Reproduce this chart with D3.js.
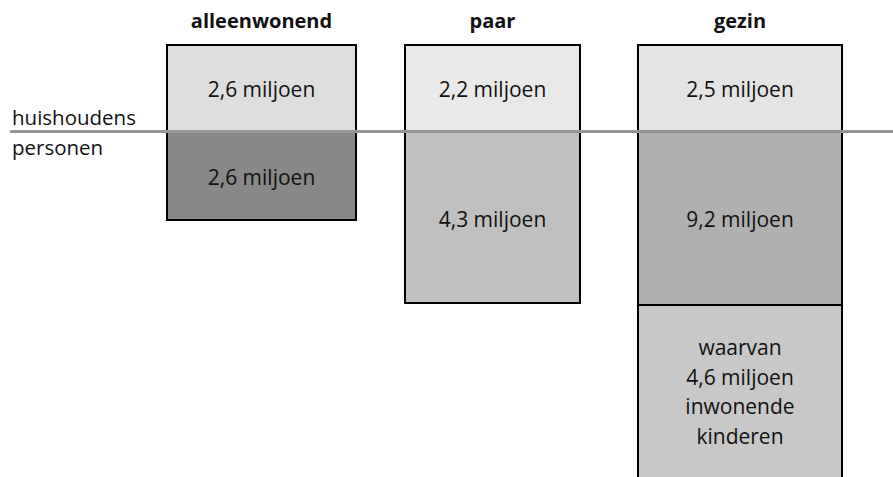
<!DOCTYPE html>
<meta charset="utf-8">
<script src="https://cdn.jsdelivr.net/npm/d3@7/dist/d3.min.js"></script>
<style>
    body { margin: 0; background: #fff; }
    text { font-family: "Open Sans", sans-serif; fill: #111; }
    .head { font-weight: bold; font-size: 20px; }
    .val { font-size: 21px; }
    .side { font-size: 20.5px; }
</style>
<body>
<script>

    // data
    var categories = ["alleenwonend", "paar", "gezin"]
    var households = ["2,6 miljoen", "2,2 miljoen", "2,5 miljoen"]
    var persons = ["2,6 miljoen", "4,3 miljoen", "9,2 miljoen"]
    var childrenNote = ["waarvan", "4,6 miljoen", "inwonende", "kinderen"]
    var rowLabels = ["huishoudens", "personen"]

    // layout (schematic, not proportional)
    var W = 893, H = 477
    var colLeft = [167, 405, 638]
    var colRight = [356, 580, 842]
    var topY = 45, midY = 131.5
    var bottomY = [220, 303, 305]
    var topFill = ["#dedede", "#e9e9e9", "#e4e4e4"]
    var bottomFill = ["#888888", "#c0c0c0", "#b0b0b0"]
    var kidsFill = "#c8c8c8"

    var svg = d3.select("body").append("svg").attr("width", W).attr("height", H)

    var x = d3.scaleOrdinal().domain(categories).range(colLeft)
    var x2 = d3.scaleOrdinal().domain(categories).range(colRight)
    var cx = (d) => (x(d) + x2(d)) / 2

    var cols = categories.map((c, i) => ({cat: c, hh: households[i], p: persons[i], bottom: bottomY[i], i: i}))

    // gezin children block (under the 9,2 block, runs off the page)
    svg.append("rect").attr("x", x("gezin")).attr("y", bottomY[2]).attr("width", x2("gezin") - x("gezin")).attr("height", H + 20 - bottomY[2])
        .style("fill", kidsFill).style("stroke", "#000").style("stroke-width", 2)

    var g = svg.selectAll(".col").data(cols).enter().append("g").attr("class", "col")

    g.append("rect").attr("x", (d) => x(d.cat)).attr("y", topY).attr("width", (d) => x2(d.cat) - x(d.cat)).attr("height", midY - topY)
        .style("fill", (d) => topFill[d.i])
    g.append("rect").attr("x", (d) => x(d.cat)).attr("y", midY).attr("width", (d) => x2(d.cat) - x(d.cat)).attr("height", (d) => d.bottom - midY)
        .style("fill", (d) => bottomFill[d.i])
    g.append("rect").attr("x", (d) => x(d.cat)).attr("y", topY).attr("width", (d) => x2(d.cat) - x(d.cat)).attr("height", (d) => d.bottom - topY)
        .style("fill", "none").style("stroke", "#000").style("stroke-width", 2)

    // divider line
    svg.append("line").attr("x1", 10).attr("x2", W).attr("y1", midY).attr("y2", midY)
        .style("stroke", "#959595").style("stroke-width", 3)

    g.append("text").attr("class", "head").attr("x", (d) => cx(d.cat)).attr("y", 28).attr("text-anchor", "middle").text((d) => d.cat)
    g.append("text").attr("class", "val").attr("x", (d) => cx(d.cat)).attr("y", 97).attr("text-anchor", "middle").text((d) => d.hh)
    g.append("text").attr("class", "val").attr("x", (d) => cx(d.cat)).attr("y", (d) => d.i == 0 ? 185 : 227).attr("text-anchor", "middle").text((d) => d.p)

    svg.selectAll(".kids").data(childrenNote).enter().append("text").attr("class", "val")
        .attr("x", cx("gezin")).attr("y", (d, i) => 355 + i * 29.7).attr("text-anchor", "middle").text((d) => d)

    svg.selectAll(".side").data(rowLabels).enter().append("text").attr("class", "side")
        .attr("x", 12).attr("y", (d, i) => i == 0 ? 125 : 155).text((d) => d)

</script>
</body>
</html>
